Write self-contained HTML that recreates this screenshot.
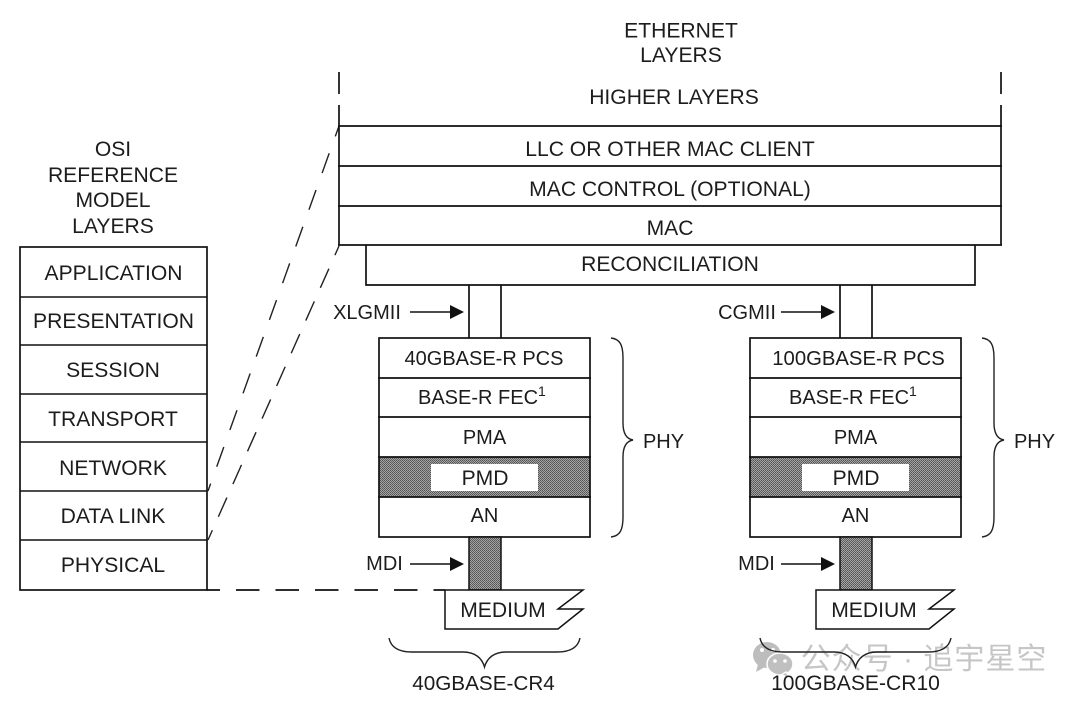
<!DOCTYPE html>
<html><head><meta charset="utf-8"><style>
html,body{margin:0;padding:0;background:#fff}
svg{display:block}
text{font-family:"Liberation Sans",sans-serif;font-size:21.1px;fill:#1c1c1c;text-anchor:middle}
.p{font-size:20px}
.l{stroke:#111;stroke-width:1.7;fill:none}
.t{stroke:#111;stroke-width:1.4;fill:none}
.s{stroke:#222;stroke-width:1.4;fill:none}
</style></head><body>
<svg width="1080" height="702" viewBox="0 0 1080 702" xmlns="http://www.w3.org/2000/svg">
<defs>
<pattern id="h" width="2" height="2" patternUnits="userSpaceOnUse">
<rect width="2" height="2" fill="#a4a4a4"/><rect width="1" height="1" fill="#555"/><rect x="1" y="1" width="1" height="1" fill="#606060"/>
</pattern>
</defs>
<rect width="1080" height="702" fill="#fff"/>

<!-- watermark -->
<g fill="#bdbdbd">
<ellipse cx="767" cy="655" rx="14" ry="13"/>
<path d="M758 664l-2 8 9-5z"/>
</g>
<g fill="#c0c0c0" stroke="#fff" stroke-width="1.5">
<ellipse cx="780" cy="664" rx="13" ry="11"/>
<path d="M786 672l4 6-9-3z"/>
</g>
<g fill="#fff">
<circle cx="762" cy="650" r="2"/><circle cx="773" cy="650" r="2"/>
<circle cx="775" cy="661" r="1.8"/><circle cx="785" cy="661" r="1.8"/>
</g>
<text x="924" y="669" style="font-family:'Liberation Sans','Noto Sans CJK SC',sans-serif;font-size:30px;fill:#c6c6c6;letter-spacing:1px">公众号 · 追宇星空</text>

<!-- Titles -->
<text x="681" y="37.500">ETHERNET</text>
<text x="681" y="62">LAYERS</text>
<text x="113" y="156">OSI</text>
<text x="113" y="182">REFERENCE</text>
<text x="113" y="207">MODEL</text>
<text x="113" y="233">LAYERS</text>

<!-- OSI stack -->
<rect x="20" y="247" width="187" height="343" class="l"/>
<path class="t" d="M20 297H207M20 345H207M20 394H207M20 442H207M20 491H207M20 540H207"/>
<text x="113.500" y="280">APPLICATION</text>
<text x="113.500" y="328">PRESENTATION</text>
<text x="113" y="377">SESSION</text>
<text x="113" y="426">TRANSPORT</text>
<text x="113" y="475">NETWORK</text>
<text x="113" y="523">DATA LINK</text>
<text x="113" y="572">PHYSICAL</text>

<!-- dashed connectors -->
<path class="s" stroke-dasharray="21 18" stroke-dashoffset="10" d="M339 126L208 491"/>
<path class="s" stroke-dasharray="21 14.800" stroke-dashoffset="11" d="M339 246L208 540"/>
<path class="l" stroke-dasharray="23.500 16" stroke-dashoffset="10.500" d="M207 590H445"/>

<!-- Ethernet stack -->
<path class="l" d="M339 72V94M339 105V245M1001 72V94M1001 105V245"/>
<path class="l" d="M338 126H1002M338 166H1002M338 206H1002M338 245H1002"/>
<text x="674" y="104">HIGHER LAYERS</text>
<text x="670" y="156">LLC OR OTHER MAC CLIENT</text>
<text x="670" y="196">MAC CONTROL (OPTIONAL)</text>
<text x="670" y="235">MAC</text>
<path class="l" d="M366 245V285H975V245"/>
<text x="670" y="271">RECONCILIATION</text>

<!-- Left PHY -->
<g>
<path class="l" d="M469 285V338M501 285V338"/>
<rect x="379" y="457" width="211" height="40" fill="url(#h)"/>
<rect x="431" y="464" width="107" height="27" fill="#fff"/>
<rect x="379" y="338" width="211" height="199" class="l"/>
<path class="l" d="M378 378H591M378 417H591M378 457H591M378 497H591"/>
<text class="p" x="484" y="365">40GBASE-R PCS</text>
<text class="p" x="418" y="404" style="text-anchor:start">BASE-R FEC<tspan font-size="14" dy="-8">1</tspan></text>
<text class="p" x="484.500" y="444">PMA</text>
<text x="485" y="485">PMD</text>
<text class="p" x="484.500" y="522">AN</text>
<rect x="469" y="537" width="32" height="53" fill="url(#h)" stroke="#111" stroke-width="1.5"/>
<path d="M445 590H583L558 609H583L558 629H445Z" fill="#fff" stroke="#111" stroke-width="1.5"/>
<text x="503" y="617">MEDIUM</text>
<path class="s" d="M611 338C620 339 623 345 623 358V423C623 434 627 439 633 440C627 441 623 446 623 457V517C623 530 620 536 611 537"/>
<text class="p" x="663.500" y="448">PHY</text>
<path class="s" d="M389 638C391 648 400 652 412 652H463C475 652 482 658 484.500 667C487 658 494 652 506 652H557C569 652 578 648 580 638"/>
<path d="M410 312H452" stroke="#111" stroke-width="1.500"/><path d="M450 305L464 312L450 319Z" fill="#111"/>
<path d="M410 564H452" stroke="#111" stroke-width="1.500"/><path d="M450 557L464 564L450 571Z" fill="#111"/>
</g>
<text class="p" x="367" y="319">XLGMII</text>
<text class="p" x="384.500" y="570">MDI</text>
<text x="483.500" y="690" style="font-size:20.700px">40GBASE-CR4</text>

<!-- Right PHY -->
<g transform="translate(371 0)">
<path class="l" d="M469 285V338M501 285V338"/>
<rect x="379" y="457" width="211" height="40" fill="url(#h)"/>
<rect x="431" y="464" width="107" height="27" fill="#fff"/>
<rect x="379" y="338" width="211" height="199" class="l"/>
<path class="l" d="M378 378H591M378 417H591M378 457H591M378 497H591"/>
<text class="p" x="487.500" y="365" style="font-size:20.300px">100GBASE-R PCS</text>
<text class="p" x="418" y="404" style="text-anchor:start">BASE-R FEC<tspan font-size="14" dy="-8">1</tspan></text>
<text class="p" x="484.500" y="444">PMA</text>
<text x="485" y="485">PMD</text>
<text class="p" x="484.500" y="522">AN</text>
<rect x="469" y="537" width="32" height="53" fill="url(#h)" stroke="#111" stroke-width="1.5"/>
<path d="M445 590H583L558 609H583L558 629H445Z" fill="#fff" stroke="#111" stroke-width="1.5"/>
<text x="503" y="617">MEDIUM</text>
<path class="s" d="M611 338C620 339 623 345 623 358V423C623 434 627 439 633 440C627 441 623 446 623 457V517C623 530 620 536 611 537"/>
<text class="p" x="663.500" y="448">PHY</text>
<path class="s" d="M389 638C391 648 400 652 412 652H463C475 652 482 658 484.500 667C487 658 494 652 506 652H557C569 652 578 648 580 638"/>
<path d="M410 312H452" stroke="#111" stroke-width="1.500"/><path d="M450 305L464 312L450 319Z" fill="#111"/>
<path d="M410 564H452" stroke="#111" stroke-width="1.500"/><path d="M450 557L464 564L450 571Z" fill="#111"/>
</g>
<text class="p" x="747" y="319">CGMII</text>
<text class="p" x="756.500" y="570">MDI</text>
<text x="855.500" y="690">100GBASE-CR10</text>
</svg>
</body></html>
